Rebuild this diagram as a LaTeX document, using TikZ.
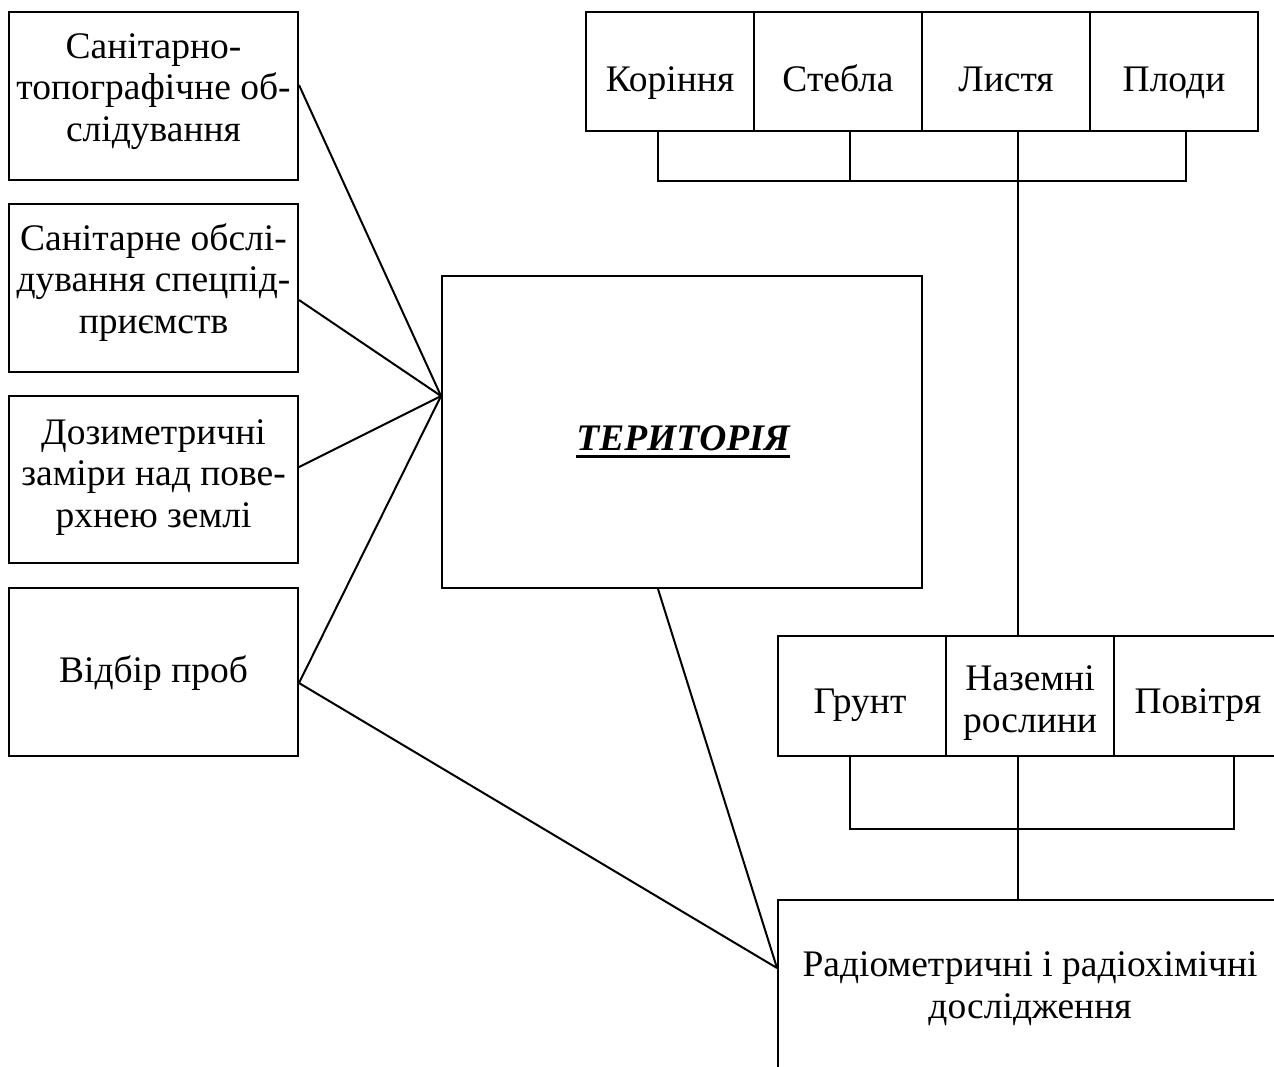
\documentclass[tikz,border=0pt]{standalone}
\usepackage{fontspec}
\setmainfont{Liberation Serif}
\begin{document}
\begin{tikzpicture}[x=1pt,y=-1pt,
  box/.style={draw, line width=2pt, rectangle, inner sep=0pt},
  txt/.style={inner sep=0pt, align=center, anchor=base,
    font=\fontsize{37.5}{41.5}\selectfont},
  wire/.style={line width=2pt}]
\useasboundingbox (0,0) rectangle (1274,1066);
\clip (0,0) rectangle (1274,1066);
\fill[white] (0,0) rectangle (1274,1066);

% left column of survey methods (multi-line labels sit on their last baseline)
\node[box, minimum width=289pt, minimum height=168pt] (b1) at (153.5,96) {};
\node[box, minimum width=289pt, minimum height=168pt] (b2) at (153.5,288) {};
\node[box, minimum width=289pt, minimum height=167pt] (b3) at (153.5,479.5) {};
\node[box, minimum width=289pt, minimum height=168pt] (b4) at (153.5,672) {};
\node[txt] (t1) at (153.5,141) {Санітарно-\\топографічне об-\\слідування};
\node[txt] (t2) at (153.5,333) {Санітарне обслі-\\дування спецпід-\\приємств};
\node[txt] (t3) at (153.5,527) {Дозиметричні\\заміри над пове-\\рхнею землі};
\node[txt] (t4) at (153.5,682) {Відбір проб};

% central block
\node[box, minimum width=480pt, minimum height=312pt] (terr) at (682,432) {};
\node[txt, font=\fontsize{37.5}{41.5}\selectfont\bfseries\itshape] (tt) at (683,450) {ТЕРИТОРІЯ};
\draw[line width=3.5pt] ([yshift=-6.5pt]tt.base west) -- ([yshift=-6.5pt]tt.base east);

% plant parts
\node[box, minimum width=168pt, minimum height=119pt] (kor) at (670,71.5) {};
\node[box, minimum width=168pt, minimum height=119pt] (ste) at (838,71.5) {};
\node[box, minimum width=168pt, minimum height=119pt] (lys) at (1006,71.5) {};
\node[box, minimum width=168pt, minimum height=119pt] (plo) at (1174,71.5) {};
\node[txt] (tkor) at (670,91) {Коріння};
\node[txt] (tste) at (838,91) {Стебла};
\node[txt] (tlys) at (1006,91) {Листя};
\node[txt] (tplo) at (1174,91) {Плоди};

% sampled media
\node[box, minimum width=168pt, minimum height=120pt] (gru) at (862,696) {};
\node[box, minimum width=168pt, minimum height=120pt] (naz) at (1030,696) {};
\node[box, minimum width=168pt, minimum height=120pt] (pov) at (1198,696) {};
\node[txt] (tgru) at (860,713) {Грунт};
\node[txt] (tnaz) at (1030,732) {Наземні\\рослини};
\node[txt] (tpov) at (1198,713) {Повітря};

% laboratory studies
\node[box, minimum width=504pt, minimum height=200pt] (rad) at (1030,1000) {};
\node[txt] (trad) at (1030,1018) {Радіометричні і радіохімічні\\дослідження};

% connectors into the central block
\coordinate (hub) at ([yshift=36pt]terr.west);
\coordinate (labin) at ([yshift=-69pt]rad.north west);
\draw[wire] ([yshift=11pt]b1.east) -- (hub);
\draw[wire] ([yshift=-12pt]b2.east) -- (hub);
\draw[wire] ([yshift=12.5pt]b3.east) -- (hub);
\draw[wire] ([yshift=-11pt]b4.east) -- (hub);
\draw[wire] ([yshift=-11pt]b4.east) -- (labin);
\draw[wire] ([xshift=-24pt]terr.south) -- (labin);

% bracket under the plant parts
\draw[wire] ([xshift=-12pt]kor.south) -- ++(0,49) -| ([xshift=12pt]plo.south);
\draw[wire] ([xshift=12pt]ste.south) -- ++(0,49);
\draw[wire] ([xshift=12pt]lys.south) -- ([xshift=-12pt]naz.north);

% bracket under the media
\draw[wire] ([xshift=-12pt]gru.south) -- ++(0,72) -| ([xshift=36pt]pov.south);
\draw[wire] ([xshift=-12pt]naz.south) -- ([xshift=-12pt]rad.north);
\end{tikzpicture}
\end{document}
